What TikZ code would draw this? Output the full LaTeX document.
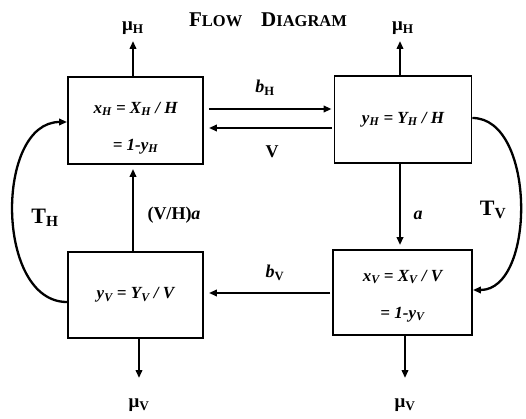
\documentclass[tikz,border=0pt]{standalone}
\usepackage{fontspec}
\setmainfont{Liberation Serif}
\usetikzlibrary{arrows.meta,calc}
\newcommand{\sbs}[1]{\textsubscript{#1}}
\tikzset{
  x=1pt, y=-1pt,
  box/.style={draw, line width=1.9pt, inner sep=0pt, align=center,
    font=\bfseries\itshape\fontsize{17}{37}\selectfont},
  arr/.style={line width=2pt, -{Triangle[length=8pt,width=6.5pt]}},
  curv/.style={line width=2.3pt, -{Triangle[length=8pt,width=6.5pt]}},
  lbl/.style={inner sep=0pt, font=\bfseries\fontsize{18}{20}\selectfont},
  big/.style={inner sep=0pt, font=\bfseries\fontsize{22}{24}\selectfont},
  mu/.style={inner sep=0pt, font=\bfseries\fontsize{19}{21}\selectfont},
}
\begin{document}
\begin{tikzpicture}
\useasboundingbox (0,0) rectangle (526,419);
% title
\node[inner sep=0pt, font=\bfseries\fontsize{21}{23}\selectfont] (title) at (268,20)
  {F{\fontsize{16.5}{18}\selectfont LOW}\hspace{0.9em}D{\fontsize{16.5}{18}\selectfont IAGRAM}};
% boxes
\node[box, minimum width=135pt, minimum height=87pt] (A) at (135.5,120.5)
  {\rule{0pt}{26pt}x\sbs{H} = X\sbs{H} / H\\ = 1-y\sbs{H}};
\node[box, minimum width=137pt, minimum height=87pt] (B) at (403,119.5)
  {y\sbs{H} = Y\sbs{H} / H};
\node[box, minimum width=135pt, minimum height=86pt] (C) at (135.5,295)
  {y\sbs{V} = Y\sbs{V} / V};
\node[box, minimum width=139pt, minimum height=85pt] (D) at (402.5,292.5)
  {\rule{0pt}{18pt}x\sbs{V} = X\sbs{V} / V\\ = 1-y\sbs{V}};
% labels
\node[mu] (muH1) at (133,28) {μ\sbs{H}};
\node[mu] (muH2) at (403,28) {μ\sbs{H}};
\node[mu] (muV1) at (139,405) {μ\sbs{V}};
\node[mu] (muV2) at (405,405) {μ\sbs{V}};
\node[lbl] (bH) at (265,88) {\textit{b}\sbs{H}};
\node[lbl] (Vl) at (272,152) {V};
\node[lbl] (al) at (418,215) {\textit{a}};
\node[lbl] (VHa) at (174,215) {(V/H)\textit{a}};
\node[lbl] (bV) at (275,273) {\textit{b}\sbs{V}};
\node[big] (TH) at (45,218) {T\sbs{H}};
\node[big] (TV) at (493,210) {T\sbs{V}};
% free ends
\coordinate (tH1) at (133,41);
\coordinate (tH2) at (400,41);
\coordinate (tV1) at (139,378);
\coordinate (tV2) at (405,378);
% outflow arrows
\draw[arr] (A.north -| tH1) -- (tH1);
\draw[arr] (B.north -| tH2) -- (tH2);
\draw[arr] (C.south -| tV1) -- (tV1);
\draw[arr] (D.south -| tV2) -- (tV2);
% exchanges
\draw[arr] ($(A.east |- 0,109)+(5,0)$) -- ($(B.west |- 0,109)+(-2,0)$);
\draw[arr] ($(B.west |- 0,128)+(-2,0)$) -- ($(A.east |- 0,128)+(5,0)$);
\draw[arr, shorten >=4pt] (B.south -| 400,0) -- (D.north -| 400,0);
\draw[arr, shorten >=4pt] (C.north -| 133,0) -- (A.south -| 133,0);
\draw[arr] ($(D.west |- 0,293)+(-2,0)$) -- ($(C.east |- 0,293)+(5,0)$);
% turnover curves
\draw[curv] (C.west |- 0,302) .. controls (-5,302) and (-5,122) .. (A.west |- 0,122);
\draw[curv] (B.east |- 0,118) .. controls (536,118) and (536,290) .. (D.east |- 0,290);
\end{tikzpicture}
\end{document}
